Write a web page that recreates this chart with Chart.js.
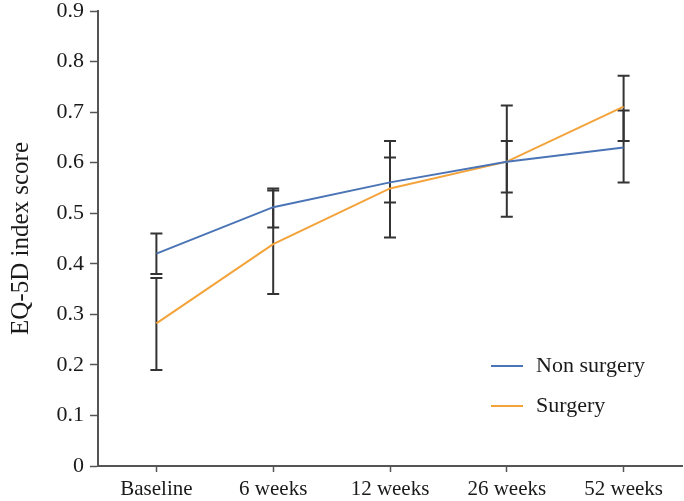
<!DOCTYPE html>
<html>
<head>
<meta charset="utf-8">
<script src="https://cdn.jsdelivr.net/npm/chart.js@4/dist/chart.umd.min.js"></script>
<style>
  body { margin: 0; background: #fff; }
  #wrap { width: 684px; height: 501px; }
</style>
</head>
<body>
<div id="wrap"><canvas id="grafico"></canvas></div>
<script>
const categorias = ["Baseline", "6 weeks", "12 weeks", "26 weeks", "52 weeks"];
const naoCirurgia = [0.42, 0.512, 0.561, 0.602, 0.63];
const naoCirurgiaMin = [0.38, 0.472, 0.521, 0.541, 0.561];
const naoCirurgiaMax = [0.46, 0.549, 0.61, 0.643, 0.703];
const cirurgia = [0.282, 0.439, 0.549, 0.602, 0.711];
const cirurgiaMin = [0.19, 0.34, 0.452, 0.493, 0.643];
const cirurgiaMax = [0.372, 0.545, 0.643, 0.713, 0.772];
const ticksY = [0, 0.1, 0.2, 0.3, 0.4, 0.5, 0.6, 0.7, 0.8, 0.9];

const fonte = "'Liberation Serif', 'DejaVu Serif', serif";
const corTexto = "#1a1a1a";
const corEixo = "#555";

// barras de erro desenhadas pelas escalas do grafico
const barrasErro = {
  id: "barrasErro",
  beforeDatasetsDraw(chart) {
    const ctx = chart.ctx;
    const x = chart.scales.x;
    const y = chart.scales.y;
    ctx.save();
    ctx.strokeStyle = "#333";
    ctx.lineWidth = 2;
    chart.data.datasets.forEach((ds) => {
      ds.erroMin.forEach((min, i) => {
        const px = x.getPixelForValue(i);
        const y1 = y.getPixelForValue(min);
        const y2 = y.getPixelForValue(ds.erroMax[i]);
        ctx.beginPath();
        ctx.moveTo(px, y1);
        ctx.lineTo(px, y2);
        ctx.moveTo(px - 6, y1);
        ctx.lineTo(px + 6, y1);
        ctx.moveTo(px - 6, y2);
        ctx.lineTo(px + 6, y2);
        ctx.stroke();
      });
    });
    ctx.restore();
  },
};

// legenda dentro da area do grafico, canto inferior direito
const legendaInterna = {
  id: "legendaInterna",
  afterDraw(chart) {
    const ctx = chart.ctx;
    ctx.save();
    ctx.font = "22px " + fonte;
    ctx.textBaseline = "middle";
    chart.data.datasets.forEach((ds, i) => {
      const ly = 366 + i * 40;
      ctx.strokeStyle = ds.borderColor;
      ctx.lineWidth = 2;
      ctx.beginPath();
      ctx.moveTo(491, ly);
      ctx.lineTo(523, ly);
      ctx.stroke();
      ctx.fillStyle = corTexto;
      ctx.fillText(ds.label, 536, ly);
    });
    ctx.restore();
  },
};

const ctx = document.getElementById("grafico").getContext("2d");
new Chart(ctx, {
  type: "line",
  data: {
    labels: categorias,
    datasets: [
      {
        label: "Non surgery",
        data: naoCirurgia,
        erroMin: naoCirurgiaMin,
        erroMax: naoCirurgiaMax,
        borderColor: "#4a74b6",
        borderWidth: 2,
        pointRadius: 0,
        tension: 0,
      },
      {
        label: "Surgery",
        data: cirurgia,
        erroMin: cirurgiaMin,
        erroMax: cirurgiaMax,
        borderColor: "#f3a33a",
        borderWidth: 2,
        pointRadius: 0,
        tension: 0,
      },
    ],
  },
  options: {
    responsive: true,
    maintainAspectRatio: false,
    animation: false,
    layout: { padding: { top: 0, right: 2, left: 0, bottom: 0 } },
    plugins: {
      legend: { display: false },
      tooltip: { enabled: false },
    },
    scales: {
      x: {
        offset: true,
        grid: {
          display: true,
          drawOnChartArea: false,
          offset: false,
          tickLength: 6,
          tickWidth: 1.5,
          tickColor: corEixo,
        },
        border: { color: corEixo, width: 2 },
        ticks: {
          color: corTexto,
          padding: 5,
          font: { family: fonte, size: 21 },
        },
        afterFit(scale) {
          scale.height = 35;
        },
      },
      y: {
        min: 0,
        max: 0.9,
        afterBuildTicks(scale) {
          scale.ticks = ticksY.map((v) => ({ value: v }));
        },
        grid: {
          display: true,
          drawOnChartArea: false,
          tickLength: 8,
          tickWidth: 1.5,
          tickColor: corEixo,
        },
        border: { color: corEixo, width: 2 },
        ticks: {
          color: corTexto,
          padding: 6,
          font: { family: fonte, size: 22 },
          callback: (v) => (v === 0 ? "0" : v.toFixed(1)),
        },
        title: {
          display: true,
          text: "EQ-5D index score",
          color: corTexto,
          padding: { top: 6, bottom: 4 },
          font: { family: fonte, size: 25 },
        },
        afterFit(scale) {
          scale.width = 98;
          scale.paddingTop = 11;
        },
      },
    },
  },
  plugins: [barrasErro, legendaInterna],
});
</script>
</body>
</html>
